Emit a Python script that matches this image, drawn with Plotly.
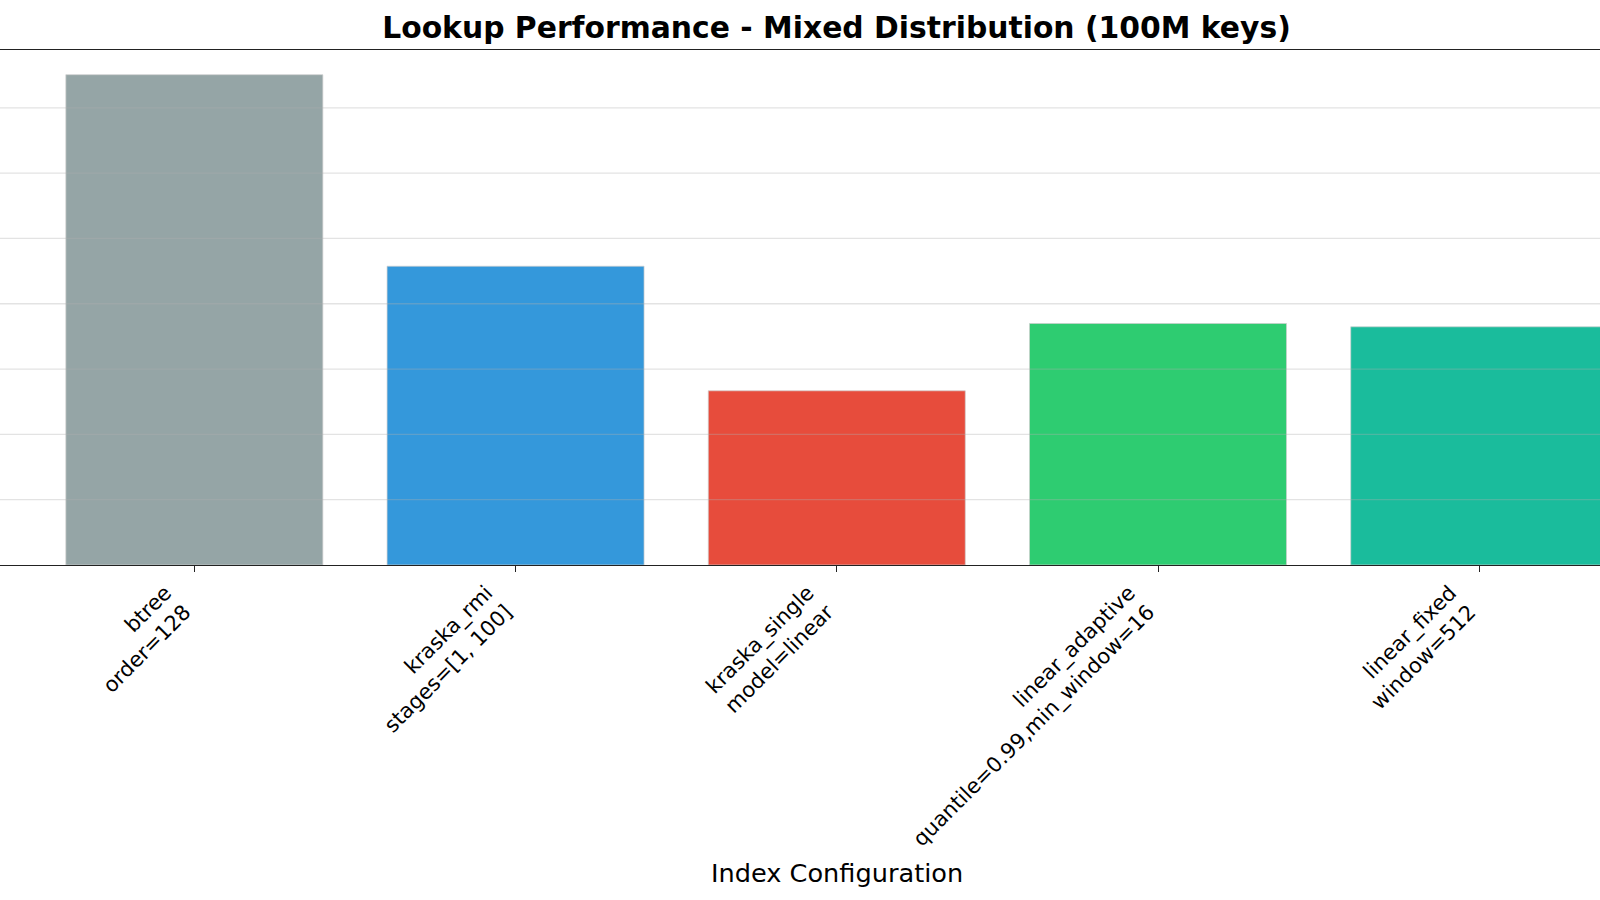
import plotly.graph_objects as go

# ---- data ----
categories = ["btree", "kraska_rmi", "kraska_single", "linear_adaptive", "linear_fixed"]
params = ["order=128", "stages=[1, 100]", "model=linear",
          "quantile=0.99,min_window=16", "window=512"]
lookup_ns = [750.7, 457.5, 266.7, 369.7, 364.7]
colors = ["#95a5a6", "#3498db", "#e74c3c", "#2ecc71", "#1abc9c"]
grid_values = [100, 200, 300, 400, 500, 600, 700]

labels = [f"{c}<br>{p}" for c, p in zip(categories, params)]

W, H = 1600, 900
TOP, BOTTOM = 50, 565.3
plot_h = BOTTOM - TOP

fig = go.Figure()
fig.add_trace(go.Bar(
    x=labels, y=lookup_ns, width=0.8,
    marker=dict(color=colors, line=dict(color="rgba(205,205,205,0.7)", width=1)),
    showlegend=False, hoverinfo="x+y",
))

shapes = [
    dict(type="line", xref="paper", x0=0, x1=1, yref="y", y0=v, y1=v,
         line=dict(color="rgba(176,176,176,0.35)", width=1.3), layer="above")
    for v in grid_values
]

fig.update_layout(
    width=W, height=H,
    margin=dict(l=0, r=0, t=TOP, b=H - BOTTOM, pad=0),
    plot_bgcolor="white", paper_bgcolor="white",
    font=dict(family="DejaVu Sans", color="black"),
    title=dict(
        text="Lookup Performance - Mixed Distribution (100M keys)",
        font=dict(family="DejaVu Sans", size=29.8, weight="bold", color="black"),
        x=836.5 / W, xanchor="center", xref="container",
        y=1 - 27.5 / H, yanchor="middle", yref="container",
    ),
    xaxis=dict(
        range=[-0.605, 4.376],
        showline=True, mirror=True, linecolor="#222", linewidth=1.3,
        ticks="outside", ticklen=6, tickwidth=1.3, tickcolor="#222",
        tickangle=-45, ticklabelshift=-29,
        tickfont=dict(size=21, family="DejaVu Sans", color="black"),
        showgrid=False, zeroline=False,
    ),
    yaxis=dict(
        range=[0, 788.5], showgrid=False, zeroline=False, showline=False,
        showticklabels=False, ticks="",
    ),
    shapes=shapes,
    annotations=[dict(
        text="Index Configuration", xref="paper", yref="paper",
        x=836.7 / W, y=-(873 - BOTTOM) / plot_h, xanchor="center", yanchor="middle",
        showarrow=False, font=dict(family="DejaVu Sans", size=25.6, color="black"),
    )],
)

fig.write_html(
    "out.html",
    config={"displayModeBar": False},
    post_script="document.body.style.margin='0';document.body.style.overflow='hidden';",
)
